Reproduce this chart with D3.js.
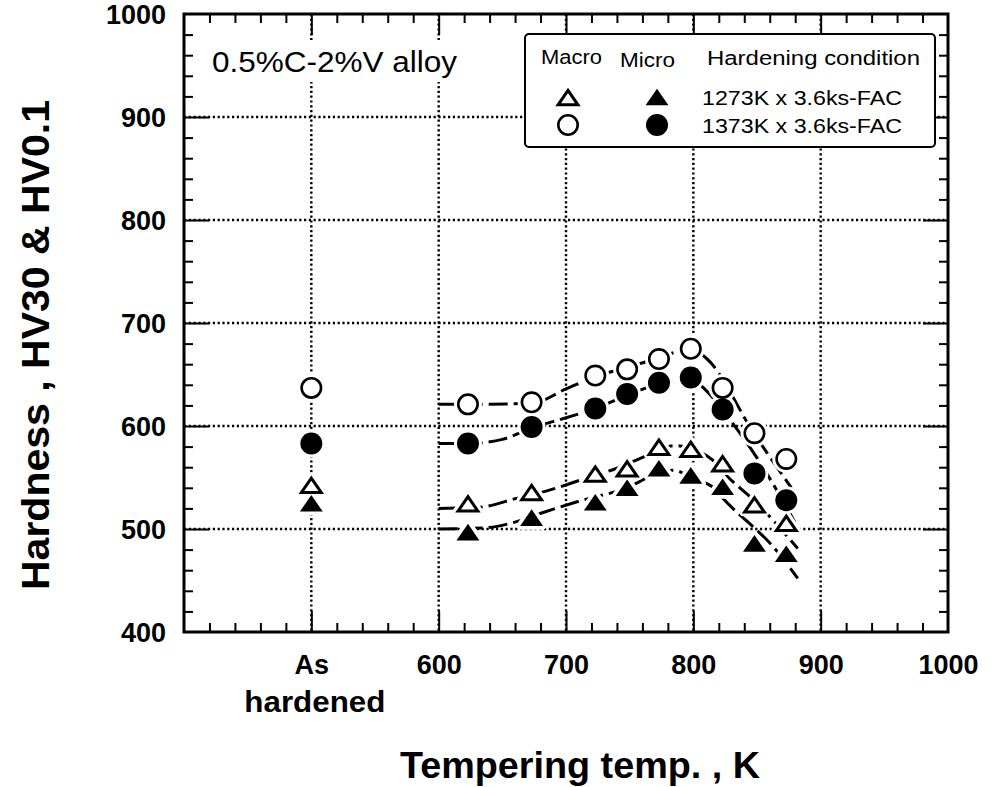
<!DOCTYPE html>
<html><head><meta charset="utf-8">
<script src="https://cdn.jsdelivr.net/npm/d3@7"></script>
<style>
body{margin:0;background:#fff;}
svg{display:block;font-family:Arial,"Liberation Sans",Helvetica,sans-serif;}
</style></head><body>
<svg id="chart" width="994" height="787"></svg>
<script>
// ---------------- data ----------------
const tempK = [623, 673, 723, 748, 773, 798, 823, 848, 873];
const asHardenedPos = 500;               // x-position of the "As hardened" column
const seriesNames = ["macro1273", "micro1273", "macro1373", "micro1373"];
const asHardened = [543, 525, 637, 583];  // same order as seriesNames
const macro1273 = [525, 536, 554, 559, 580, 578, 564, 524, 506];
const micro1273 = [497, 511, 526, 540, 559, 552, 541, 486, 476];
const macro1373 = [621, 623, 649, 655, 665, 675, 637, 593, 568];
const micro1373 = [583, 599, 617, 631, 642, 647, 616, 554, 528];
// fitted (hand-drawn) curves, [K, HV]
const fitMacro1373 = [[600,621],[623,621],[673,622],[700,636],[723,648],[748,657],[773,666],[798,675],[810,666],[848,592],[877,540]];
const fitMicro1373 = [[600,583],[623,583],[650,587],[673,598],[700,608],[723,617],[748,630],[773,641],[798,647],[808,637],[830,604],[850,569],[880,506]];
const fitMacro1273 = [[600,520],[631,521],[662,530],[685,537],[715,549],[740,559],[765,572],[785,581],[805,575],[815,567],[826,552],[850,525],[882,481]];
const fitMicro1273 = [[600,500],[635,501],[658,506],[682,516],[713,528],[748,540],[770,553],[785,557],[801,548],[815,541],[823,530],[866,478],[882,452]];
const xTickValues = [500, 600, 700, 800, 900, 1000];
const xTickLabels = ["As", "600", "700", "800", "900", "1000"];
const yTickValues = [400, 500, 600, 700, 800, 900, 1000];
const legendConditions = ["1273K x 3.6ks-FAC", "1373K x 3.6ks-FAC"];

// ---------------- chart ----------------
const svg = d3.select("#chart");
const x = d3.scaleLinear().domain([400, 1000]).range([184, 948]);
const y = d3.scaleLinear().domain([400, 1000]).range([632, 14]);
const L = 184, R = 948, T = 14, B = 632;
const FONT = "Arial, 'Liberation Sans', sans-serif";

// grid lines (dotted)
const grid = svg.append("g").attr("stroke", "#000").attr("stroke-width", 2.4).attr("stroke-dasharray", "2.2,2.6");
[500,600,700,800,900].forEach(v => {
  grid.append("line").attr("x1", x(v)).attr("x2", x(v)).attr("y1", T).attr("y2", B);
  grid.append("line").attr("x1", L).attr("x2", R).attr("y1", y(v)).attr("y2", y(v));
});

// fitted curves
const line = d3.line().x(d => x(d[0])).y(d => y(d[1])).curve(d3.curveMonotoneX);
[fitMacro1373, fitMicro1373, fitMacro1273, fitMicro1273].forEach(f => {
  svg.append("path").attr("d", line(f)).attr("fill", "none").attr("stroke", "#000")
    .attr("stroke-width", 3).attr("stroke-dasharray", "19,6");
});

// markers
const triW = 22, triH = 16, cR = 10;
function triPath(cx, cy, s) {
  const w = triW * s, h = triH * s;
  return `M${cx},${cy - h/2}L${cx + w/2},${cy + h/2}L${cx - w/2},${cy + h/2}Z`;
}
function marker(g, type, cx, cy, halo) {
  const open = type.startsWith("macro");
  const tri = type.endsWith("1273");
  if (halo) {
    if (tri) g.append("path").attr("d", triPath(cx, cy, 1)).attr("fill", "#fff").attr("stroke", "#fff").attr("stroke-width", 8).attr("stroke-linejoin", "round");
    else g.append("circle").attr("cx", cx).attr("cy", cy).attr("r", cR + 4).attr("fill", "#fff");
    return;
  }
  if (tri) {
    if (open) g.append("path").attr("d", triPath(cx, cy + 0.6, 0.9)).attr("fill", "#fff").attr("stroke", "#000").attr("stroke-width", 3);
    else g.append("path").attr("d", triPath(cx, cy, 1.04)).attr("fill", "#000");
  } else {
    if (open) g.append("circle").attr("cx", cx).attr("cy", cy).attr("r", cR - 0.3).attr("fill", "#fff").attr("stroke", "#000").attr("stroke-width", 2.6);
    else g.append("circle").attr("cx", cx).attr("cy", cy).attr("r", cR + 1).attr("fill", "#000");
  }
}
const seriesData = { macro1273, micro1273, macro1373, micro1373 };
const mg = svg.append("g");
[true, false].forEach(halo => {
  seriesNames.forEach((name, i) => {
    marker(mg, name, x(asHardenedPos), y(asHardened[i]), halo);
    seriesData[name].forEach((v, j) => marker(mg, name, x(tempK[j]), y(v), halo));
  });
});

// axes (ticks inward)
const minorX = d3.range(420, 1000, 20).filter(v => v % 100 !== 0);
const minorY = d3.range(420, 1000, 20).filter(v => v % 100 !== 0);
function styleAxis(g) {
  g.select(".domain").remove();
  g.selectAll(".tick line").attr("stroke", "#000").attr("stroke-width", 2);
}
svg.append("g").attr("transform", `translate(0,${B})`).call(d3.axisBottom(x).tickValues(minorX).tickSize(-9).tickFormat("")).call(styleAxis);
svg.append("g").attr("transform", `translate(0,${T})`).call(d3.axisTop(x).tickValues(minorX).tickSize(-9).tickFormat("")).call(styleAxis);
svg.append("g").attr("transform", `translate(${L},0)`).call(d3.axisLeft(y).tickValues(minorY).tickSize(-9).tickFormat("")).call(styleAxis);
svg.append("g").attr("transform", `translate(${R},0)`).call(d3.axisRight(y).tickValues(minorY).tickSize(-9).tickFormat("")).call(styleAxis);
svg.append("g").attr("transform", `translate(0,${T})`).call(d3.axisTop(x).tickValues([500,600,700,800,900]).tickSize(-21).tickFormat("")).call(styleAxis);
svg.append("g").attr("transform", `translate(${R},0)`).call(d3.axisRight(y).tickValues([500,600,700,800,900]).tickSize(-25).tickFormat("")).call(styleAxis);

const xAx = svg.append("g").attr("transform", `translate(0,${B})`)
  .call(d3.axisBottom(x).tickValues(xTickValues).tickSize(-21).tickPadding(23)
    .tickFormat((d, i) => xTickLabels[i])).call(styleAxis);
xAx.selectAll(".tick text").attr("font-size", 27).attr("font-weight", "bold").attr("fill", "#000")
  .attr("font-family", FONT);
xAx.selectAll(".tick").filter(d => d === asHardenedPos).append("text")
  .attr("y", 80).attr("text-anchor", "middle").attr("font-size", 29).attr("font-weight", "bold")
  .attr("fill", "#000").attr("font-family", FONT)
  .attr("x", 3).attr("textLength", 141).attr("lengthAdjust", "spacingAndGlyphs").text("hardened");
xAx.selectAll(".tick").filter(d => d === 1000).select("line").remove();

const yAx = svg.append("g").attr("transform", `translate(${L},0)`)
  .call(d3.axisLeft(y).tickValues(yTickValues).tickSize(-25).tickPadding(18).tickFormat(d3.format("d"))).call(styleAxis);
yAx.selectAll(".tick text").attr("font-size", 27).attr("font-weight", "bold").attr("fill", "#000")
  .attr("font-family", FONT).attr("dy", "0.36em");
yAx.selectAll(".tick").filter(d => d === 400 || d === 1000).select("line").remove();

// frame
svg.append("rect").attr("x", L).attr("y", T).attr("width", R - L).attr("height", B - T)
  .attr("fill", "none").attr("stroke", "#000").attr("stroke-width", 3);

// alloy label
svg.append("rect").attr("x", 204).attr("y", 40).attr("width", 262).attr("height", 42).attr("fill", "#fff");
svg.append("text").attr("x", 212).attr("y", 72).attr("font-size", 30).attr("textLength", 245)
  .attr("lengthAdjust", "spacingAndGlyphs").text("0.5%C-2%V alloy");

// legend
const lg = svg.append("g");
lg.append("rect").attr("x", 525).attr("y", 34).attr("width", 410).attr("height", 113).attr("rx", 4)
  .attr("fill", "#fff").attr("stroke", "#000").attr("stroke-width", 2);
lg.append("text").attr("x", 541).attr("y", 64).attr("font-size", 20).attr("textLength", 61).attr("lengthAdjust", "spacingAndGlyphs").text("Macro");
lg.append("text").attr("x", 620).attr("y", 67).attr("font-size", 20).attr("textLength", 55).attr("lengthAdjust", "spacingAndGlyphs").text("Micro");
lg.append("text").attr("x", 707).attr("y", 65).attr("font-size", 20).attr("textLength", 213).attr("lengthAdjust", "spacingAndGlyphs").text("Hardening condition");
legendConditions.forEach((c, i) => {
  const yy = 97 + i * 28;
  marker(lg, i === 0 ? "macro1273" : "macro1373", 568, yy, false);
  marker(lg, i === 0 ? "micro1273" : "micro1373", 657, yy, false);
  lg.append("text").attr("x", 702).attr("y", yy + 8).attr("font-size", 21).attr("textLength", 200)
    .attr("lengthAdjust", "spacingAndGlyphs").text(c);
});

// axis titles
svg.append("text").attr("x", 580).attr("y", 778).attr("text-anchor", "middle").attr("font-size", 37)
  .attr("font-weight", "bold").attr("textLength", 360).attr("lengthAdjust", "spacingAndGlyphs").text("Tempering temp. , K");
svg.append("text").attr("transform", "translate(49,345) rotate(-90)").attr("text-anchor", "middle")
  .attr("font-size", 38).attr("font-weight", "bold").attr("textLength", 490).attr("lengthAdjust", "spacingAndGlyphs")
  .text("Hardness ,  HV30 & HV0.1");
</script>
</body></html>
